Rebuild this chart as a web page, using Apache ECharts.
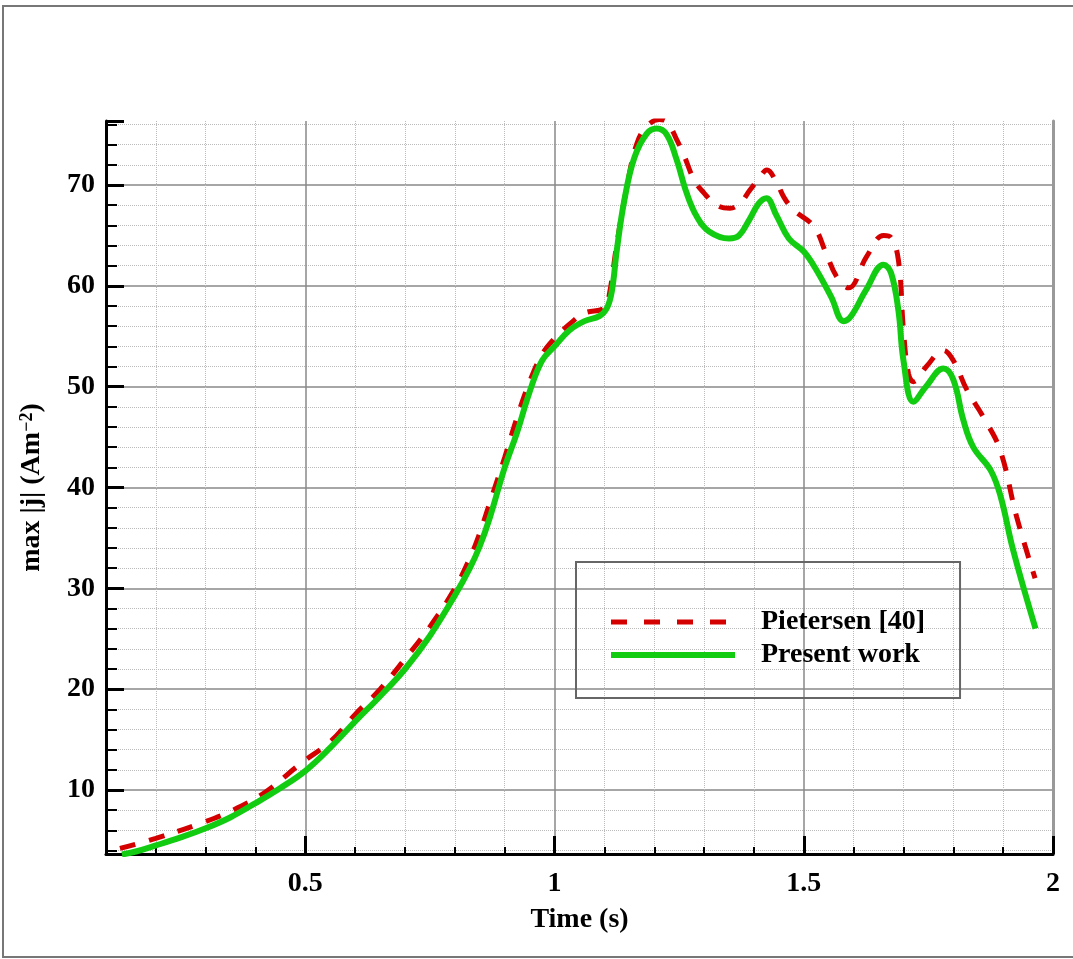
<!DOCTYPE html>
<html>
<head>
<meta charset="utf-8">
<script src="https://cdn.jsdelivr.net/npm/echarts@6/dist/echarts.min.js"></script>
<style>
  html, body { margin: 0; padding: 0; background: #fff; }
  #main { width: 1073px; height: 959px; }
</style>
</head>
<body>
<div id="main"></div>
<script>
var seriesNames = ['Pietersen [40]', 'Present work'];

var redTime = [0.128, 0.2, 0.29, 0.355, 0.42, 0.49, 0.55, 0.6, 0.65, 0.7, 0.75, 0.8, 0.83, 0.85, 0.87, 0.9, 0.925, 0.95, 0.975, 1.0,
  1.03, 1.06, 1.1, 1.11, 1.125, 1.145, 1.165, 1.185, 1.21, 1.225, 1.245, 1.26, 1.28, 1.3, 1.325, 1.352, 1.372, 1.392, 1.412, 1.426,
  1.446, 1.46, 1.48, 1.52, 1.545, 1.565, 1.59, 1.626, 1.66, 1.675, 1.69, 1.7, 1.71, 1.72, 1.746, 1.78, 1.8, 1.827, 1.86, 1.894,
  1.927, 1.964];
var redValue = [4.2, 5.2, 6.7, 8.0, 9.8, 12.6, 14.8, 17.5, 20.0, 23.0, 26.2, 30.0, 33.0, 35.5, 38.5, 43.0, 47.0, 50.5, 53.2, 54.8,
  56.2, 57.3, 57.8, 59.2, 64.2, 69.8, 74.1, 75.8, 76.5, 76.3, 74.5, 72.9, 70.5, 69.2, 68.0, 67.7, 68.2, 69.5, 70.8, 71.5,
  70.2, 68.8, 67.5, 65.9, 63.2, 61.0, 59.8, 62.9, 65.0, 64.8, 62.5, 55.6, 51.3, 50.5, 52.0, 53.6, 52.6, 49.7, 47.0, 43.7,
  37.1, 31.0];

var greenTime = [0.132, 0.16, 0.2, 0.25, 0.3, 0.35, 0.4, 0.45, 0.5, 0.55, 0.6, 0.65, 0.7, 0.75, 0.8, 0.83, 0.85, 0.87, 0.9, 0.925,
  0.95, 0.975, 1.0, 1.03, 1.06, 1.09, 1.105, 1.115, 1.125, 1.14, 1.16, 1.185, 1.205, 1.225, 1.245, 1.265, 1.285, 1.31, 1.35, 1.37,
  1.39, 1.41, 1.425, 1.445, 1.47, 1.5, 1.525, 1.555, 1.58, 1.595, 1.625, 1.66, 1.675, 1.69, 1.7, 1.72, 1.745, 1.78, 1.8, 1.82,
  1.84, 1.875, 1.895, 1.92, 1.965];
var greenValue = [3.6, 3.9, 4.5, 5.3, 6.2, 7.3, 8.7, 10.2, 11.9, 14.2, 16.8, 19.3, 22.0, 25.3, 29.3, 32.0, 34.2, 37.0, 42.0, 45.5,
  49.5, 52.6, 54.0, 55.6, 56.5, 57.0, 57.8, 59.5, 63.6, 68.5, 72.7, 75.1, 75.6, 75.0, 72.5, 69.2, 66.9, 65.4, 64.7, 65.0,
  66.5, 68.2, 68.7, 67.0, 64.7, 63.4, 61.6, 58.9, 56.5, 57.0, 59.6, 62.1, 61.3, 57.5, 52.6, 48.5, 50.0, 51.8, 50.7, 46.7,
  44.0, 41.7, 39.1, 33.8, 26.0];

function pairs(xs, ys) {
  return xs.map(function (x, i) { return [x, ys[i]]; });
}

var font = 'Liberation Serif';
var red = '#d40000';
var green = '#11cc11';
var chart = echarts.init(document.getElementById('main'));

var option = {
  backgroundColor: '#fff',
  animation: false,
  graphic: [{
    type: 'rect',
    shape: { x: 3, y: 6, width: 1085, height: 951 },
    style: { fill: 'none', stroke: '#777', lineWidth: 2 },
    silent: true
  }],
  grid: { left: 106, top: 121, width: 947, height: 733 },
  legend: {
    data: [
      { name: seriesNames[0], itemStyle: { opacity: 0 }, lineStyle: { color: red, width: 5, type: [16, 17] } },
      { name: seriesNames[1], itemStyle: { opacity: 0 }, lineStyle: { color: green, width: 6 } }
    ],
    orient: 'vertical',
    left: 576,
    top: 562,
    padding: [46, 35, 29, 32],
    itemGap: 5,
    itemWidth: 124,
    itemHeight: 20,
    borderColor: '#666',
    borderWidth: 2,
    textStyle: { fontFamily: font, fontWeight: 'bold', fontSize: 28, color: '#000', padding: [0, 0, 0, 21] }
  },
  xAxis: {
    type: 'value',
    min: 0.1,
    max: 2.0,
    splitNumber: 4,
    name: 'Time (s)',
    nameLocation: 'middle',
    nameGap: 52,
    nameTextStyle: { fontFamily: font, fontWeight: 'bold', fontSize: 28, color: '#000' },
    axisLine: { lineStyle: { color: '#000', width: 3 } },
    axisTick: { inside: true, length: 18, lineStyle: { color: '#000', width: 3 } },
    minorTick: { show: true, splitNumber: 5, length: 7, lineStyle: { color: '#000', width: 2 } },
    axisLabel: { fontFamily: font, fontWeight: 'bold', fontSize: 28, color: '#000', margin: 16, showMinLabel: false },
    splitLine: { show: true, showMinLine: false, showMaxLine: false, lineStyle: { color: '#888', width: 1.5 } },
    minorSplitLine: { show: true, lineStyle: { color: '#bbb', width: 1, type: 'dotted' } }
  },
  yAxis: [{
    type: 'value',
    min: 3.65,
    max: 76.35,
    position: 'left',
    name: '{a|max |j| (Am}{s|\u22122}{a|)}',
    nameLocation: 'middle',
    nameGap: 60,
    nameTextStyle: {
      rich: {
        a: { fontFamily: font, fontWeight: 'bold', fontSize: 28, color: '#000' },
        s: { fontFamily: font, fontWeight: 'bold', fontSize: 18, color: '#000', verticalAlign: 'top' }
      }
    },
    axisLine: { lineStyle: { color: '#000', width: 3 } },
    axisTick: { inside: true, length: 18, lineStyle: { color: '#000', width: 3 } },
    minorTick: { show: true, splitNumber: 5, length: 11, lineStyle: { color: '#000', width: 2 } },
    axisLabel: { fontFamily: font, fontWeight: 'bold', fontSize: 28, color: '#000', margin: 11, showMinLabel: false, showMaxLabel: false },
    splitLine: { show: true, showMinLine: false, showMaxLine: false, lineStyle: { color: '#888', width: 1.5 } },
    minorSplitLine: { show: true, lineStyle: { color: '#bbb', width: 1, type: 'dotted' } }
  }, {
    type: 'value',
    min: 3.65,
    max: 76.35,
    position: 'right',
    axisLine: { show: true, lineStyle: { color: '#999', width: 3 } },
    axisTick: { show: false },
    axisLabel: { show: false },
    splitLine: { show: false }
  }],
  series: [{
    name: seriesNames[0],
    type: 'line',
    data: pairs(redTime, redValue),
    smooth: 0.4,
    showSymbol: false,
    symbol: 'none',
    z: 3,
    lineStyle: { color: red, width: 5, type: [16, 14] },
    itemStyle: { color: red }
  }, {
    name: seriesNames[1],
    type: 'line',
    data: pairs(greenTime, greenValue),
    smooth: 0.4,
    showSymbol: false,
    symbol: 'none',
    z: 4,
    lineStyle: { color: green, width: 6 },
    itemStyle: { color: green }
  }]
};

chart.setOption(option);
</script>
</body>
</html>
